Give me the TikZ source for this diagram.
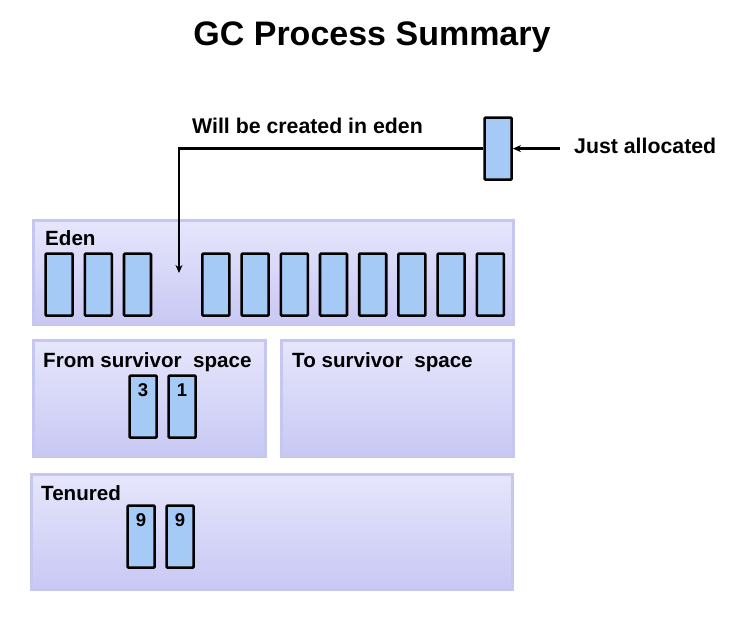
\documentclass[tikz,border=0pt]{standalone}
\usepackage{fontspec}
\setmainfont{Liberation Sans}
\usepackage{tikz}
\usetikzlibrary{calc,positioning,arrows.meta}
\usepackage{xcolor}
\definecolor{objblue}{RGB}{166,202,246}
\definecolor{paneltop}{RGB}{230,230,252}
\definecolor{panelbot}{RGB}{200,200,244}
\definecolor{panelline}{RGB}{198,198,242}

\tikzset{
  panel/.style={draw=panelline, line width=2.5pt, top color=paneltop, bottom color=panelbot,
    anchor=north west, inner sep=0pt},
  obj/.style={draw=black, fill=objblue, line width=2.6pt, rounded corners=1pt,
    minimum width=27pt, minimum height=62pt, inner sep=0pt, anchor=north west},
  plbl/.style={font=\bfseries\fontsize{20.6}{24}\selectfont, anchor=north west, inner sep=0pt},
  albl/.style={font=\bfseries\fontsize{21.3}{25}\selectfont, anchor=base west, inner sep=0pt},
  num/.style={font=\bfseries\fontsize{18.5}{22}\selectfont, anchor=north, inner sep=0pt, yshift=-9pt},
  conn/.style={line width=2.6pt, -{Stealth[length=8pt,width=7pt]}}
}

\begin{document}
\begin{tikzpicture}[x=1pt,y=-1pt]
  \useasboundingbox (0,0) rectangle (736,616);

  % Title
  \node[font=\bfseries\fontsize{34}{40}\selectfont, anchor=base] (title) at (372,45) {GC Process Summary};

  % Generations
  \node[panel, minimum width=480pt, minimum height=104pt] (eden) at (32,219) {};
  \node[panel, minimum width=232pt, minimum height=116pt] (from) at (32,339) {};
  \node[panel, minimum width=232pt, minimum height=116pt] (to) at (280,339) {};
  \node[panel, minimum width=481pt, minimum height=115pt] (tenured) at (30,473) {};

  \node[plbl, xshift=13pt, yshift=-11pt] (edenlbl) at (eden.north west) {Eden};
  \node[plbl, xshift=11pt, yshift=-13pt] (fromlbl) at (from.north west) {From survivor~ space};
  \node[plbl, xshift=12pt, yshift=-13pt] (tolbl) at (to.north west) {To survivor~ space};
  \node[plbl, xshift=11pt, yshift=-12pt] (tenlbl) at (tenured.north west) {Tenured};

  % Objects in eden (slot 3 is free)
  \foreach \i in {0,1,2,4,5,6,7,8,9,10,11}
    \node[obj] (e\i) at ({44.3+39.2*\i},252.3) {};
  \coordinate (slot) at (179,273);

  % Survivor and tenured objects
  \node[obj, label={[num]north:3}] (s1) at (128.3,374.3) {};
  \node[obj, label={[num]north:1}] (s2) at (167.3,374.3) {};
  \node[obj, label={[num]north:9}] (t1) at (126.3,504.3) {};
  \node[obj, label={[num]north:9}] (t2) at (165.3,504.3) {};

  % New object
  \node[obj] (alloc) at (483.3,116.3) {};
  \node[albl] (just) at (574,153) {Just allocated};
  \node[albl] (will) at (192,133) {Will be created in eden};

  \draw[conn] (alloc.west) -| (slot);
  \draw[conn] (just.west |- alloc.east) ++(-14pt,0) coordinate (jstart) -- (alloc.east);
\end{tikzpicture}
\end{document}
